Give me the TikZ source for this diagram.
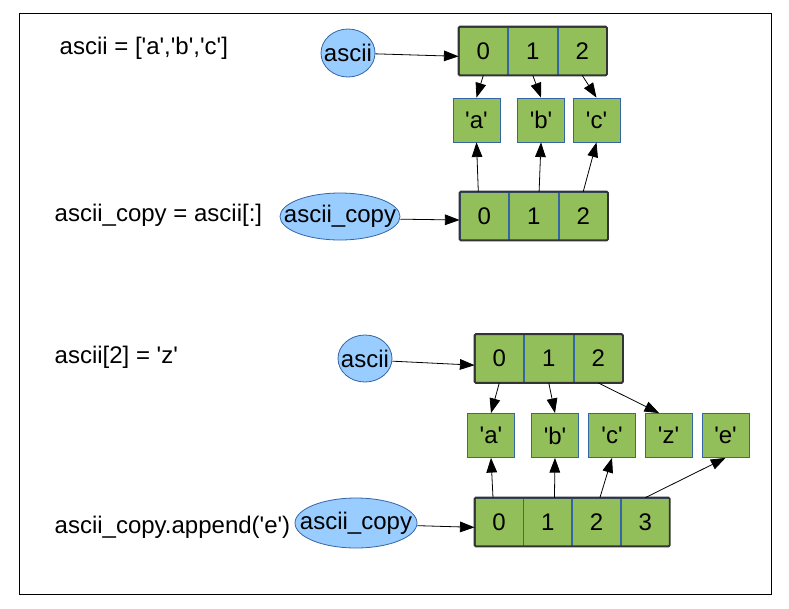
\documentclass[tikz,border=0pt]{standalone}
\usepackage{fontspec}
\setmainfont{Liberation Sans}[Ligatures=TeXOff]
\usetikzlibrary{positioning,shapes,arrows.meta}
\definecolor{cellgreen}{RGB}{147,191,91}
\definecolor{edgeblue}{RGB}{52,101,164}
\definecolor{ptrblue}{RGB}{153,204,255}
\tikzstyle{cell}=[draw=edgeblue, fill=cellgreen, minimum width=36.5pt, minimum height=36pt, inner sep=0pt, line width=0.6pt]
\tikzstyle{val}=[draw=edgeblue, fill=cellgreen, minimum width=35.25pt, minimum height=33pt, inner sep=0pt, line width=0.6pt]
\tikzstyle{ptr}=[ellipse, draw=edgeblue, fill=ptrblue, inner sep=0pt, line width=0.6pt]
\tikzstyle{arr}=[draw=black!80, line width=1.4pt, rounded corners=1pt]
\tikzstyle{ref}=[-{Triangle[length=11pt,width=8pt]}, line width=0.6pt]
\tikzstyle{code}=[anchor=west]

\begin{document}
\begin{tikzpicture}[x=0.75pt,y=-0.75pt,font=\fontsize{18}{21.5}\selectfont]
\useasboundingbox (0,0) rectangle (789,608);
\draw[line width=0.75pt] (19,13) rectangle (771,594);

% ascii = ['a','b','c']
\node[code] at (55,48) (line1) {ascii = ['a','b','c']};
\node[ptr, minimum width=40.5pt, minimum height=36pt] at (348,53) (ascii1) {\makebox[0pt]{ascii}};
\node[cell] at (483.3,51) (t0) {0};
\node[cell, right=0pt of t0] (t1) {1};
\node[cell, right=0pt of t1] (t2) {2};
\draw[arr] (t0.north west) rectangle (t2.south east);
\draw[ref] (ascii1) -- ([yshift=-4pt]t0.west);

\node[val] at (476.5,120) (a1) {'a'};
\node[val] at (541,120) (b1) {'b'};
\node[val] at (596.5,120) (c1) {'c'};
\draw[ref] (t0.south) -- (a1.north);
\draw[ref] (t1.south) -- (b1.north);
\draw[ref] (t2.south) -- (c1.north);

% ascii_copy = ascii[:]
\node[code] at (50,215) (line2) {ascii\_copy = ascii[:]};
\node[ptr, minimum width=90pt, minimum height=35.25pt] at (340,216.5) (cpy1) {\makebox[0pt]{ascii\_copy}};
\node[cell] at (484.3,216) (c0) {0};
\node[cell, right=0pt of c0] (cc1) {1};
\node[cell, right=0pt of cc1] (cc2) {2};
\draw[arr] (c0.north west) rectangle (cc2.south east);
\draw[ref] ([yshift=-2pt]cpy1.east) -- ([yshift=-3pt]c0.west);
\draw[ref] ([xshift=-4.5pt]c0.north) -- (a1.south);
\draw[ref] ([xshift=4pt]cc1.north) -- (b1.south);
\draw[ref] (cc2.north) -- (c1.south);

% ascii[2] = 'z'
\node[code] at (50,357) (line3) {ascii[2] = 'z'};
\node[ptr, minimum width=40.5pt, minimum height=35.25pt] at (365,358.5) (ascii2) {\makebox[0pt]{ascii}};
\node[cell] at (499.3,358.5) (u0) {0};
\node[cell, right=0pt of u0] (u1) {1};
\node[cell, right=0pt of u1] (u2) {2};
\draw[arr] (u0.north west) rectangle (u2.south east);
\draw[ref] ([yshift=-2pt]ascii2.east) -- ([yshift=-5pt]u0.west);

\node[val] at (491,435.5) (a2) {'a'};
\node[val] at (555,435.5) (b2) {'b'};
\node[val] at (612,435.5) (c2) {'c'};
\node[val] at (668.5,435.5) (z2) {'z'};
\node[val] at (725.5,435.5) (e2) {'e'};
\draw[ref] (u0.south) -- (a2.north);
\draw[ref] (u1.south) -- (b2.north);
\draw[ref] (u2.south) -- ([xshift=-7pt]z2.north);

% ascii_copy.append('e')
\node[code] at (50,527) (line4) {ascii\_copy.append('e')};
\node[ptr, minimum width=91.5pt, minimum height=37.5pt] at (356,523) (cpy2) {\makebox[0pt]{ascii\_copy}};
\node[cell, minimum width=36pt] at (499,522) (d0) {0};
\node[cell, minimum width=36pt, right=0pt of d0] (d1) {1};
\node[cell, minimum width=36pt, right=0pt of d1] (d2) {2};
\node[cell, minimum width=36pt, right=0pt of d2] (d3) {3};
\draw[arr] (d0.north west) rectangle (d3.south east);
\draw[ref] ([yshift=-2pt]cpy2.east) -- ([yshift=-4pt]d0.west);
\draw[ref] ([xshift=-4.5pt]d0.north) -- (a2.south);
\draw[ref] ([xshift=5pt]d1.north) -- (b2.south);
\draw[ref] ([xshift=2.5pt]d2.north) -- (c2.south);
\draw[ref] (d3.north) -- (e2.south);
\end{tikzpicture}
\end{document}
